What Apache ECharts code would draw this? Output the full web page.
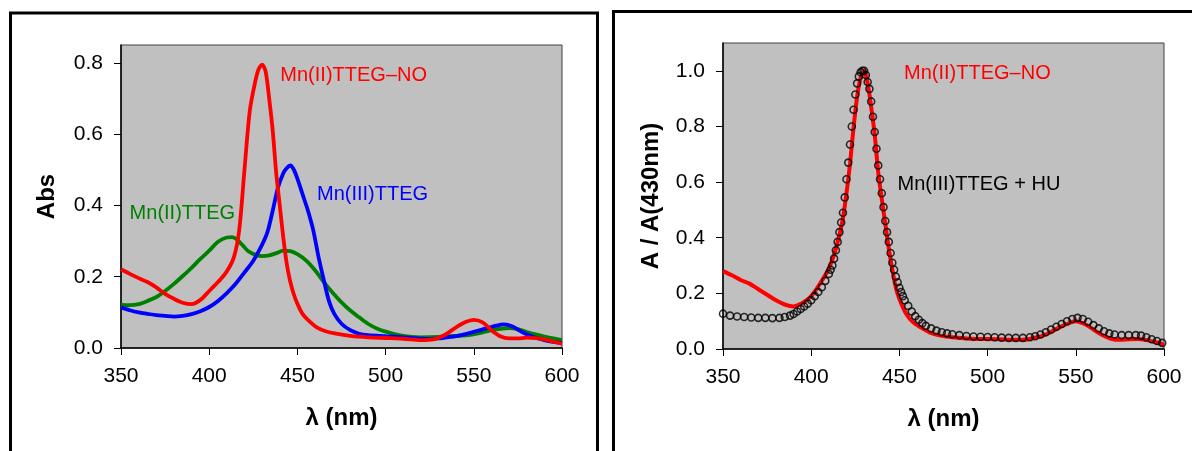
<!DOCTYPE html>
<html>
<head>
<meta charset="utf-8">
<script src="https://cdn.jsdelivr.net/npm/echarts@6/dist/echarts.min.js"></script>
<style>
html,body{margin:0;padding:0;background:#fff;}
#chart{width:1192px;height:451px;}
</style>
</head>
<body>
<div id="chart"></div>
<script>
// ---- Left panel: absorbance spectra ----
const wlNO_L = [350,355,360,365,370,375,380,385,390,395,400,405,410,414,417,420,423,426,428,430,432,434,436,438,440,442,444,446,448,450,453,457,461,466,472,480,490,500,510,520,527,533,540,545,550,555,560,565,570,575,580,585,590,595,600];
const absNO_L = [0.221,0.208,0.196,0.185,0.170,0.152,0.138,0.127,0.123,0.135,0.160,0.185,0.215,0.255,0.330,0.500,0.665,0.745,0.782,0.795,0.775,0.700,0.610,0.490,0.400,0.310,0.235,0.185,0.150,0.124,0.095,0.074,0.058,0.047,0.040,0.034,0.030,0.028,0.026,0.022,0.024,0.035,0.058,0.072,0.079,0.072,0.050,0.033,0.027,0.027,0.029,0.028,0.024,0.018,0.012];

const wlIII_L = [350,355,360,365,370,375,380,385,390,395,400,405,410,415,420,425,430,433,436,439,442,444,446,448,450,453,456,459,462,465,468,471,475,480,485,490,500,510,520,525,530,540,550,557,563,567,572,577,583,590,595,600];
const absIII_L = [0.114,0.106,0.100,0.096,0.092,0.090,0.088,0.090,0.095,0.103,0.115,0.132,0.154,0.180,0.212,0.245,0.290,0.325,0.385,0.450,0.490,0.505,0.512,0.500,0.475,0.430,0.385,0.330,0.255,0.190,0.130,0.095,0.068,0.050,0.040,0.036,0.033,0.030,0.026,0.025,0.027,0.033,0.045,0.055,0.063,0.066,0.060,0.046,0.032,0.022,0.017,0.014];

const wlII_L = [350,355,360,365,370,375,380,385,390,395,400,405,410,413,416,419,422,426,430,434,438,442,446,450,455,460,465,470,475,480,485,490,495,500,505,510,515,520,530,540,548,555,560,565,570,575,580,585,590,595,600];
const absII_L = [0.121,0.120,0.123,0.132,0.143,0.160,0.180,0.202,0.225,0.250,0.273,0.298,0.310,0.311,0.303,0.288,0.272,0.262,0.258,0.260,0.266,0.273,0.272,0.263,0.245,0.218,0.185,0.155,0.128,0.105,0.086,0.068,0.055,0.046,0.039,0.034,0.031,0.030,0.031,0.034,0.037,0.044,0.050,0.054,0.056,0.053,0.045,0.038,0.032,0.027,0.022];

// ---- Right panel: normalised spectra ----
const wlNO_R = [350,355,360,365,370,375,380,385,390,395,400,405,410,413,416,418,420,422,424,426,428,430,432,434,436,438,440,442,444,446,448,450,454,458,462,467,472,480,490,500,510,520,530,535,540,545,550,555,560,565,570,575,580,585,590,595,600];
const normNO_R = [0.280,0.265,0.248,0.235,0.215,0.195,0.175,0.160,0.153,0.165,0.190,0.235,0.290,0.340,0.410,0.470,0.560,0.665,0.795,0.905,0.975,1.000,0.955,0.870,0.770,0.635,0.540,0.450,0.360,0.285,0.220,0.180,0.125,0.095,0.078,0.060,0.050,0.042,0.037,0.036,0.034,0.033,0.045,0.058,0.075,0.090,0.100,0.090,0.070,0.050,0.037,0.033,0.035,0.036,0.032,0.025,0.015];

const wlHU_R = [350,354,358,362,366,370,374,378,382,385,388,390,392,394,396,398,400,402,404,406,408,410,411,412,413,414,415,416,417,418,419,420,421,422,423,424,425,426,427,428,429,430,431,432,433,434,435,436,437,438,439,440,441,442,443,444,445,446,447,448,449,450,451,452,453,455,457,459,461,463,465,468,471,474,477,480,484,488,492,496,500,504,508,512,516,520,524,527,530,533,536,539,542,545,548,551,554,557,560,563,566,569,572,576,580,584,587,590,593,596,599];
const normHU_R = [0.127,0.120,0.117,0.115,0.113,0.112,0.112,0.111,0.112,0.115,0.120,0.126,0.135,0.144,0.153,0.163,0.175,0.190,0.205,0.222,0.245,0.270,0.285,0.300,0.325,0.355,0.385,0.420,0.455,0.490,0.545,0.610,0.670,0.735,0.800,0.860,0.915,0.955,0.980,0.995,1.000,1.000,0.985,0.960,0.935,0.890,0.835,0.780,0.720,0.660,0.610,0.560,0.510,0.460,0.420,0.385,0.345,0.310,0.285,0.260,0.240,0.220,0.205,0.190,0.175,0.155,0.135,0.118,0.105,0.093,0.083,0.074,0.066,0.060,0.056,0.053,0.050,0.047,0.045,0.044,0.043,0.042,0.041,0.040,0.040,0.040,0.042,0.046,0.052,0.060,0.070,0.080,0.090,0.100,0.108,0.112,0.108,0.098,0.086,0.074,0.064,0.056,0.052,0.050,0.050,0.050,0.048,0.042,0.035,0.029,0.022];

// ---- Axis ticks ----
const xTicks = [350,400,450,500,550,600];
const yTicksL = [0,0.2,0.4,0.6,0.8];
const yTicksR = [0,0.2,0.4,0.6,0.8,1.0];

const FONT = "'Liberation Sans', Arial, sans-serif";
const zip = (a,b) => a.map((v,i) => [v,b[i]]);

const chart = echarts.init(document.getElementById('chart'), null, {renderer:'canvas'});

function xAxisDef(idx){
  return {
    gridIndex: idx, type:'value', min:350, max:600, interval:50,
    name:'λ (nm)', nameLocation:'middle', nameGap:58,
    nameTextStyle:{fontFamily:FONT, fontSize:24, fontWeight:'bold', color:'#000'},
    axisLine:{show:true, onZero:false, lineStyle:{color:'#000', width:1.5}},
    axisTick:{show:true, inside:false, length:7, lineStyle:{color:'#000', width:1}, customValues:xTicks},
    axisLabel:{fontFamily:FONT, fontSize:21, color:'#000', margin:18, customValues:xTicks},
    splitLine:{show:false}
  };
}
function yAxisDef(idx, max, ticks, name, gap){
  return {
    gridIndex: idx, type:'value', min:0, max:max, interval:0.2,
    name:name, nameLocation:'middle', nameGap:gap, nameRotate:90,
    nameTextStyle:{fontFamily:FONT, fontSize:24, fontWeight:'bold', color:'#000'},
    axisLine:{show:true, onZero:false, lineStyle:{color:'#000', width:1.5}},
    axisTick:{show:true, inside:false, length:7, lineStyle:{color:'#000', width:1}, customValues:ticks},
    axisLabel:{fontFamily:FONT, fontSize:21, color:'#000', margin:18, customValues:ticks,
      formatter:(v)=>v.toFixed(1)},
    splitLine:{show:false}
  };
}
function annot(coord, text, color){
  return {
    symbol:'rect', symbolSize:1, itemStyle:{color:'rgba(0,0,0,0)'},
    label:{show:true, position:'inside', formatter:text, color:color, fontFamily:FONT, fontSize:20},
    data:[{coord:coord}]
  };
}

const option = {
  animation:false,
  backgroundColor:'#fff',
  grid:[
    {left:121, top:45, width:441, height:303, show:true, backgroundColor:'#C0C0C0', borderColor:'#404040', borderWidth:1},
    {left:723, top:43, width:441, height:306, show:true, backgroundColor:'#C0C0C0', borderColor:'#404040', borderWidth:1}
  ],
  xAxis:[xAxisDef(0), xAxisDef(1)],
  yAxis:[
    yAxisDef(0, 0.85, yTicksL, 'Abs', 62),
    yAxisDef(1, 1.1, yTicksR, 'A / A(430nm)', 60)
  ],
  series:[
    {type:'line', name:'Mn(II)TTEG', xAxisIndex:0, yAxisIndex:0, data:zip(wlII_L, absII_L),
     showSymbol:false, smooth:0.3, lineStyle:{color:'#008000', width:3.8}, z:2,
     markPoint:annot([384.8,0.378],'Mn(II)TTEG','#008000')},
    {type:'line', name:'Mn(III)TTEG', xAxisIndex:0, yAxisIndex:0, data:zip(wlIII_L, absIII_L),
     showSymbol:false, smooth:0.3, lineStyle:{color:'#0000FF', width:3.8}, z:3,
     markPoint:annot([492.6,0.43],'Mn(III)TTEG','#0000FF')},
    {type:'line', name:'Mn(II)TTEG–NO', xAxisIndex:0, yAxisIndex:0, data:zip(wlNO_L, absNO_L),
     showSymbol:false, smooth:0.3, lineStyle:{color:'#FF0000', width:3.8}, z:4,
     markPoint:annot([481.9,0.764],'Mn(II)TTEG–NO','#FF0000')},
    {type:'line', name:'Mn(II)TTEG–NO (norm)', xAxisIndex:1, yAxisIndex:1, data:zip(wlNO_R, normNO_R),
     showSymbol:false, smooth:0.3, lineStyle:{color:'#FF0000', width:4}, z:2,
     markPoint:annot([494.2,0.989],'Mn(II)TTEG–NO','#FF0000')},
    {type:'scatter', name:'Mn(III)TTEG + HU', xAxisIndex:1, yAxisIndex:1, data:zip(wlHU_R, normHU_R),
     symbol:'circle', symbolSize:7, itemStyle:{color:'rgba(0,0,0,0)', borderColor:'#000', borderWidth:1.6}, z:3,
     markPoint:annot([495.1,0.592],'Mn(III)TTEG + HU','#000')}
  ],
  graphic:[
    {type:'rect', shape:{x:10.5, y:13, width:587, height:470}, style:{fill:'none', stroke:'#000', lineWidth:3}, silent:true, z:100},
    {type:'rect', shape:{x:613.5, y:11.5, width:620, height:470}, style:{fill:'none', stroke:'#000', lineWidth:3}, silent:true, z:100}
  ]
};
chart.setOption(option);
</script>
</body>
</html>
